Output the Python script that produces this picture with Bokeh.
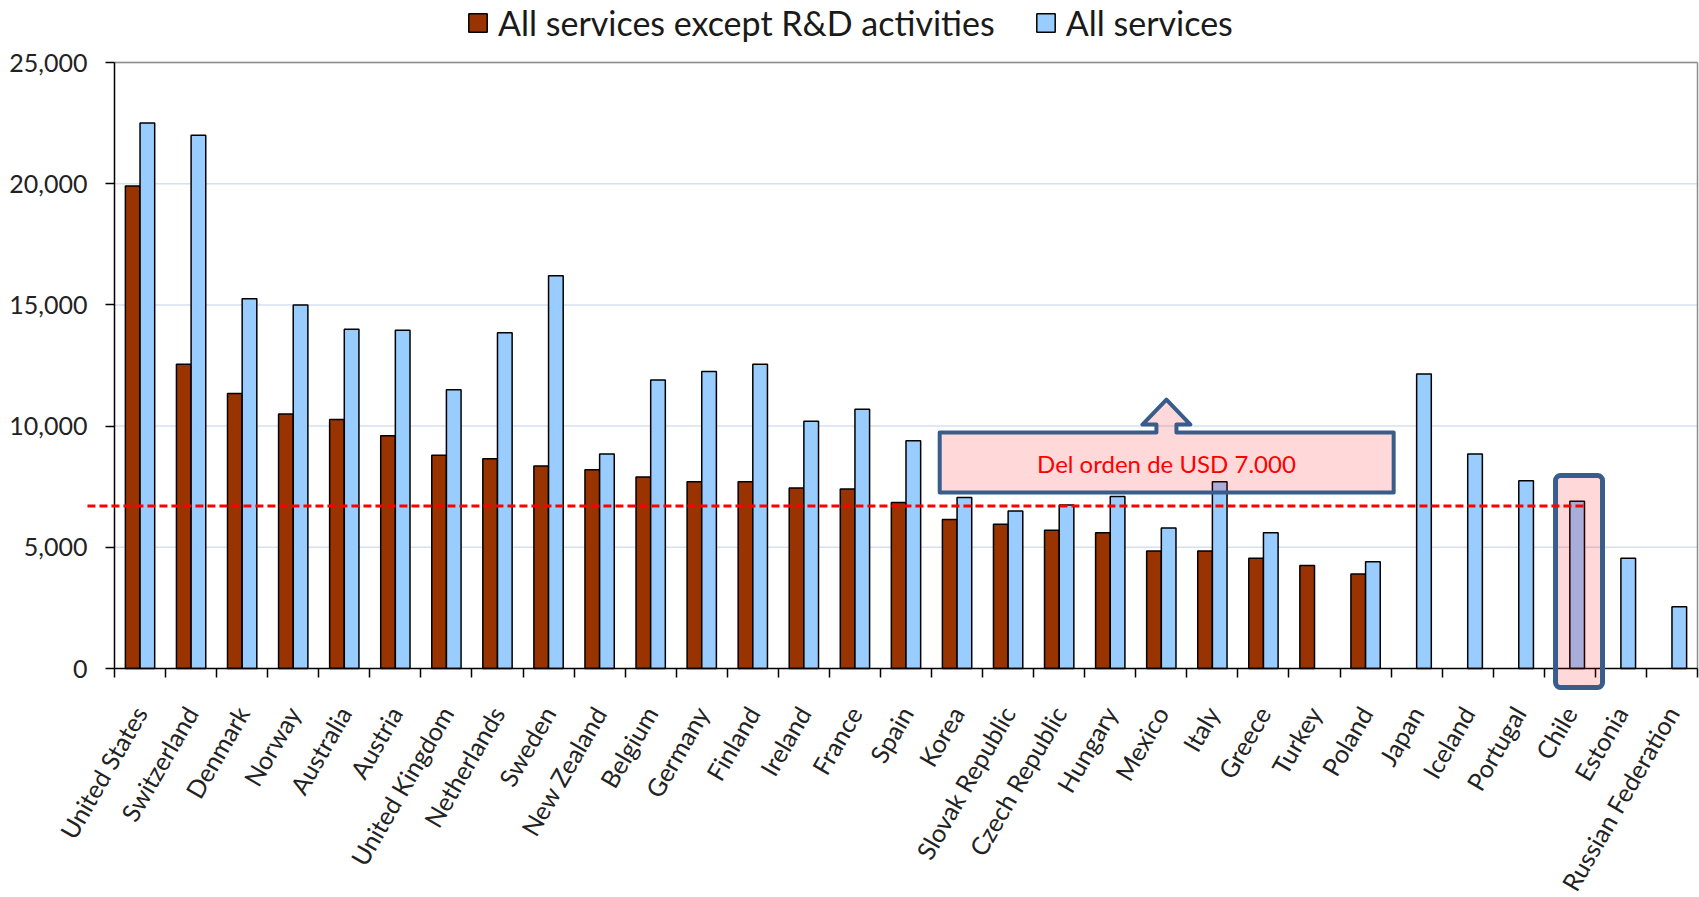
import math
from bokeh.plotting import figure
from bokeh.models import (ColumnDataSource, Range1d, FixedTicker, LinearAxis,
                          NumeralTickFormatter, Legend, LegendItem, BoxAnnotation,
                          PolyAnnotation, Arrow, Label)
from bokeh.embed import file_html
from bokeh.resources import INLINE

countries = ["United States", "Switzerland", "Denmark", "Norway", "Australia", "Austria",
             "United Kingdom", "Netherlands", "Sweden", "New Zealand", "Belgium", "Germany",
             "Finland", "Ireland", "France", "Spain", "Korea", "Slovak Republic",
             "Czech Republic", "Hungary", "Mexico", "Italy", "Greece", "Turkey", "Poland",
             "Japan", "Iceland", "Portugal", "Chile", "Estonia", "Russian Federation"]

except_rd = [19900, 12550, 11350, 10500, 10270, 9600, 8800, 8650, 8350, 8200, 7900, 7700,
             7700, 7450, 7400, 6850, 6150, 5950, 5700, 5600, 4850, 4850, 4550, 4250, 3900,
             None, None, None, None, None, None]

all_services = [22500, 22000, 15250, 15000, 14000, 13950, 11500, 13850, 16200, 8850, 11900,
                12250, 12550, 10200, 10700, 9400, 7050, 6500, 6750, 7100, 5800, 7700, 5600,
                None, 4400, 12150, 8850, 7750, 6900, 4550, 2550]

y_ticks = [0, 5000, 10000, 15000, 20000, 25000]
reference_level = 6700
callout_text = "Del orden de USD 7.000"
highlight = "Chile"

BROWN = "#993300"
BLUE = "#99CCFF"
SHAPE_LINE = "#385D8A"
FONT = "Lato"

W, H = 1699, 897
n = len(countries)
bar_w = 0.287
y_top = y_ticks[-1]

# plot area (axes box) in canvas pixels: left, right, top, bottom
AX_L, AX_R, AX_T, AX_B = 114, 1697, 62, 668
px_x = (AX_R - AX_L) / n
px_y = (AX_B - AX_T) / y_top

def src(vals, shift):
    xs, ys = [], []
    for i, v in enumerate(vals):
        if v is not None:
            xs.append(i + 0.5 + shift)
            ys.append(v)
    return ColumnDataSource(dict(x=xs, top=ys))

# the frame covers the whole canvas so axes, legend and callouts are never clipped
p = figure(width=W, height=H, output_backend="svg", toolbar_location=None,
           x_range=Range1d(-AX_L / px_x, n + (W - AX_R) / px_x),
           y_range=Range1d(-(H - AX_B) / px_y, y_top + AX_T / px_y),
           x_axis_type=None, y_axis_type=None,
           min_border_left=0, min_border_right=0, min_border_top=0, min_border_bottom=0)
p.background_fill_color = "white"
p.border_fill_color = "white"
p.outline_line_color = None

# grid lines and plot-area border
grid_y = y_ticks[1:]
p.segment(x0=[0] * len(grid_y), x1=[n] * len(grid_y), y0=grid_y, y1=grid_y,
          line_color="#D6E0F0", line_width=1.5, level="underlay")
p.segment(x0=[0, n], x1=[n, n], y0=[y_top, 0], y1=[y_top, y_top],
          line_color="#8C8C8C", line_width=1.5, level="underlay")

# y axis
yax = LinearAxis(ticker=FixedTicker(ticks=y_ticks), formatter=NumeralTickFormatter(format="0,0"))
yax.fixed_location = 0
yax.bounds = (0, y_top)
yax.axis_line_color = "black"
yax.axis_line_width = 1.5
yax.major_tick_line_color = "black"
yax.major_tick_line_width = 1.5
yax.major_tick_out = 9
yax.major_tick_in = 0
yax.minor_tick_line_color = None
yax.major_label_standoff = 18
yax.major_label_text_font = FONT
yax.major_label_text_font_size = "25px"
yax.major_label_text_color = "#222222"
p.add_layout(yax, "left")

# x axis: labels at category centers, ticks at category boundaries
centers = [i + 0.5 for i in range(n)]
bounds = [float(i) for i in range(n + 1)]
xax = LinearAxis(ticker=FixedTicker(ticks=centers, minor_ticks=bounds))
xax.fixed_location = 0
xax.bounds = (0, n)
xax.major_label_overrides = {c: name for c, name in zip(centers, countries)}
xax.major_tick_line_color = None
xax.major_tick_out = 0
xax.major_tick_in = 0
xax.minor_tick_line_color = "black"
xax.minor_tick_line_width = 1.5
xax.minor_tick_out = 9
xax.minor_tick_in = 0
xax.axis_line_color = "black"
xax.axis_line_width = 1.5
xax.major_label_orientation = math.pi / 3
xax.major_label_standoff = 31
xax.major_label_text_font = FONT
xax.major_label_text_font_size = "25px"
xax.major_label_text_color = "#222222"
p.add_layout(xax, "below")

r1 = p.vbar(x="x", top="top", width=bar_w, source=src(except_rd, -bar_w / 2),
            fill_color=BROWN, line_color="black", line_width=1.5)
r2 = p.vbar(x="x", top="top", width=bar_w, source=src(all_services, bar_w / 2),
            fill_color=BLUE, line_color="black", line_width=1.5)

legend = Legend(items=[LegendItem(label="All services except R&D activities", renderers=[r1]),
                       LegendItem(label="All services", renderers=[r2])],
                orientation="horizontal", location=(466, H - 43))
legend.label_text_font = FONT
legend.label_text_font_size = "34px"
legend.label_text_color = "#1A1A1A"
legend.glyph_width = 23
legend.glyph_height = 23
legend.label_standoff = 9
legend.spacing = 39
legend.padding = 0
legend.margin = 0
legend.border_line_color = None
legend.background_fill_alpha = 0
p.add_layout(legend)

# highlight box around Chile
hi = countries.index(highlight)
p.add_layout(BoxAnnotation(left=hi + 0.22, right=hi + 1.14, bottom=-784, top=7961,
                           fill_color="red", fill_alpha=0.15,
                           line_color=SHAPE_LINE, line_alpha=1.0, line_width=5,
                           border_radius=5))

# callout box with up arrow
bl, br, bb, bt = 16.16, 25.05, 7260, 9735
ac, sw, hw, hb, tip = 20.60, 0.196, 0.47, 10065, 11096
p.add_layout(PolyAnnotation(
    xs=[bl, br, br, ac + sw, ac + sw, ac + hw, ac, ac - hw, ac - sw, ac - sw, bl],
    ys=[bb, bb, bt, bt, hb, hb, tip, hb, hb, bt, bt],
    fill_color="red", fill_alpha=0.15, line_color=SHAPE_LINE, line_alpha=1.0,
    line_width=4, line_join="round"))
p.add_layout(Label(x=ac, y=8456, text=callout_text, text_align="center", text_baseline="middle",
                   text_color="red", text_font=FONT, text_font_size="24px"))

# reference dashed line
p.add_layout(Arrow(x_start=-0.53, y_start=reference_level, x_end=hi + 0.5 + bar_w,
                   y_end=reference_level, end=None, line_color="red", line_width=3,
                   line_dash="8 4"))

open("out.html", "w").write(file_html(p, INLINE))
